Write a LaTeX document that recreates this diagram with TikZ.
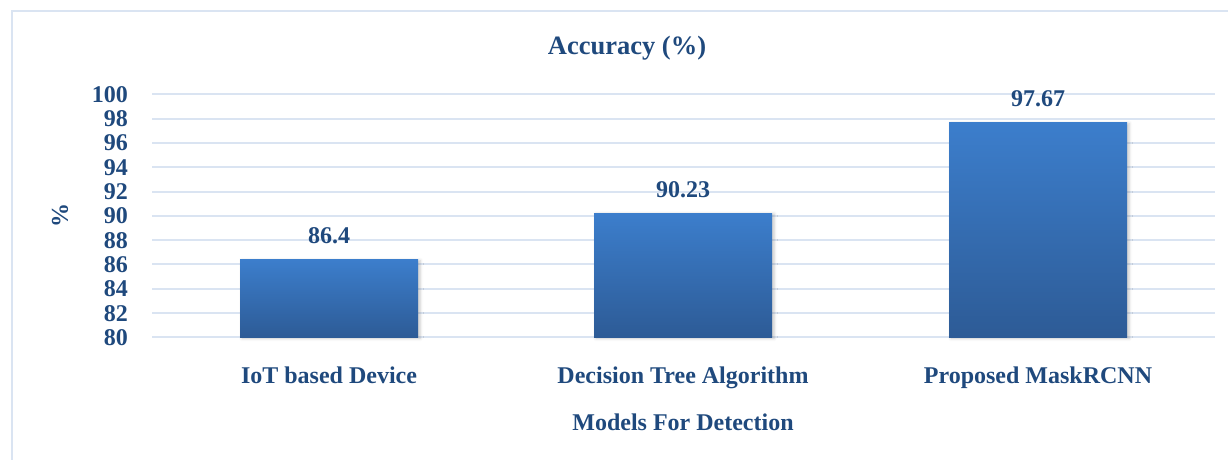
\documentclass[tikz,border=0pt]{standalone}
\usepackage{fontspec}
\setmainfont{Liberation Serif}
\usetikzlibrary{shadows.blur}
\definecolor{labelblue}{RGB}{31,73,125}
\definecolor{gridblue}{RGB}{218,228,242}
\definecolor{bartop}{RGB}{60,126,204}
\definecolor{barmid}{RGB}{55,114,186}
\definecolor{barbot}{RGB}{45,91,150}
\begin{document}
\begin{tikzpicture}[x=1pt,y=-1pt,
  lbl/.style={font=\bfseries\fontsize{24}{28}\selectfont, text=labelblue, inner sep=0pt},
  titlelbl/.style={font=\bfseries\fontsize{26.5}{30}\selectfont, text=labelblue, inner sep=0pt},
  gridline/.style={draw=gridblue, line width=2pt},
  barbox/.style={top color=bartop, middle color=barmid, bottom color=barbot,
    blur shadow={shadow xshift=2pt, shadow yshift=-1pt, shadow blur radius=3pt, shadow opacity=22}}]
  \useasboundingbox (0,0) rectangle (1228,460);
  % chart frame
  \draw[gridblue, line width=2pt] (12,470) -- (12,11) -- (1240,11);
  % value axis: y(v) = 337.3 - (v-80)*12.15
  \foreach \v in {80,82,...,100}{
    \pgfmathsetmacro\yy{337.3-(\v-80)*12.15}
    \draw[gridline] (152,\yy) -- (1215,\yy);
    \node[lbl, anchor=base east] (tick\v) at (128,\yy+8) {\v};
  }
  % bars with value labels and category labels
  \foreach \xl/\xr/\val/\cat/\nm in {240/418/86.4/IoT based Device/a,
      594/772/90.23/Decision Tree Algorithm/b,
      949/1127/97.67/Proposed MaskRCNN/c}{
    \pgfmathsetmacro\ytop{337.3-(\val-80)*12.15}
    \pgfmathsetmacro\xc{(\xl+\xr)/2}
    \fill[barbox] (\xl,\ytop) rectangle (\xr,337.3);
    \node[lbl, anchor=base] (val\nm) at (\xc,\ytop-16) {\val};
    \node[lbl, anchor=base] (cat\nm) at (\xc,383) {\cat};
  }
  % titles
  \node[titlelbl, anchor=base] (title) at (627,54.5) {Accuracy (\%)};
  \node[lbl, rotate=90] (ytitle) at (60,215) {\%};
  \node[lbl, anchor=base] (xtitle) at (683,430.7) {Models For Detection};
\end{tikzpicture}
\end{document}
